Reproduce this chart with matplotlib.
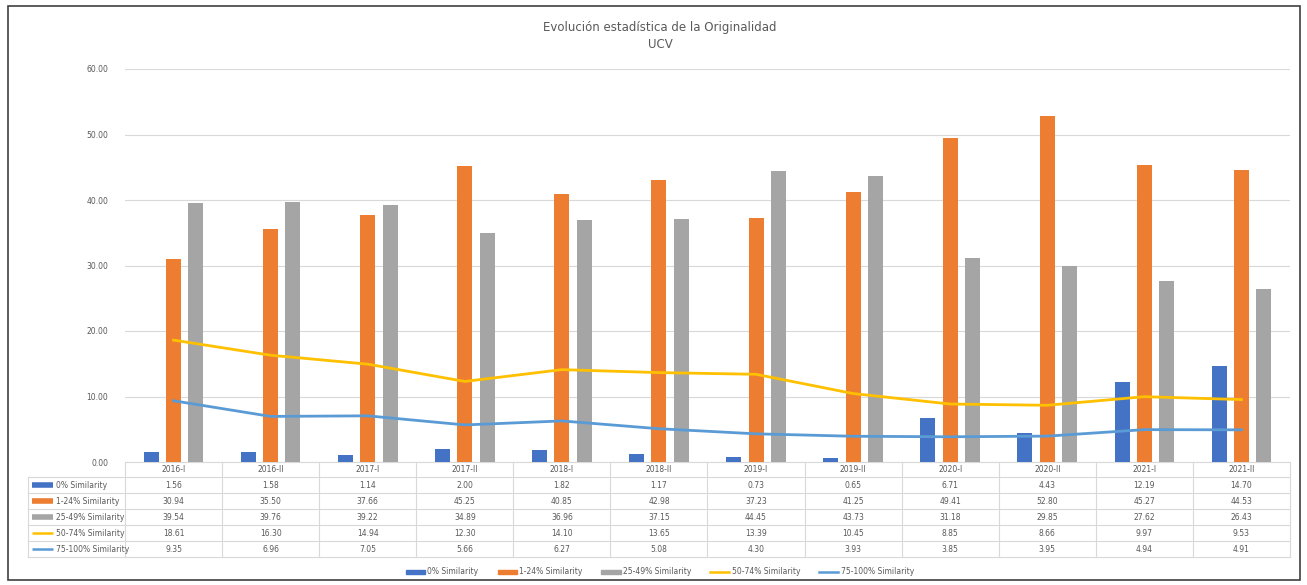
import matplotlib.pyplot as plt
import matplotlib.transforms as mtransforms
from matplotlib.patches import Rectangle
from matplotlib.lines import Line2D
import numpy as np

# data
periods = ["2016-I", "2016-II", "2017-I", "2017-II", "2018-I", "2018-II",
           "2019-I", "2019-II", "2020-I", "2020-II", "2021-I", "2021-II"]
sim_0 = [1.56, 1.58, 1.14, 2.00, 1.82, 1.17, 0.73, 0.65, 6.71, 4.43, 12.19, 14.70]
sim_1_24 = [30.94, 35.50, 37.66, 45.25, 40.85, 42.98, 37.23, 41.25, 49.41, 52.80, 45.27, 44.53]
sim_25_49 = [39.54, 39.76, 39.22, 34.89, 36.96, 37.15, 44.45, 43.73, 31.18, 29.85, 27.62, 26.43]
sim_50_74 = [18.61, 16.30, 14.94, 12.30, 14.10, 13.65, 13.39, 10.45, 8.85, 8.66, 9.97, 9.53]
sim_75_100 = [9.35, 6.96, 7.05, 5.66, 6.27, 5.08, 4.30, 3.93, 3.85, 3.95, 4.94, 4.91]

labels = ["0% Similarity", "1-24% Similarity", "25-49% Similarity",
          "50-74% Similarity", "75-100% Similarity"]
colors = ["#4472C4", "#ED7D31", "#A5A5A5", "#FFC000", "#5B9BD5"]
series = [sim_0, sim_1_24, sim_25_49, sim_50_74, sim_75_100]

txt = "#595959"
grid = "#D9D9D9"

fig = plt.figure(figsize=(13.07, 5.85), dpi=100)
ax = fig.add_axes([125 / 1307, 1 - 462 / 585, 1165 / 1307, 393 / 585])

x = np.arange(len(periods))
w = 0.155
step = 0.23
for k in range(3):
    ax.bar(x + (k - 1) * step, series[k], width=w, color=colors[k], zorder=3)
for k in range(3, 5):
    ax.plot(x, series[k], color=colors[k], lw=2, zorder=4, solid_joinstyle="round")

ax.set_xlim(-0.5, len(periods) - 0.5)
ax.set_ylim(0, 60)
ax.set_yticks(range(0, 61, 10))
ax.set_yticklabels([f"{v:.2f}" for v in range(0, 61, 10)], fontsize=5.5, color=txt)
ax.tick_params(axis="y", length=0, pad=12)
ax.set_xticks([])
ax.grid(axis="y", color=grid, lw=0.8, zorder=0)
for s in ["top", "right", "left"]:
    ax.spines[s].set_visible(False)
ax.spines["bottom"].set_color(grid)

# title
fig.text(660 / 1307, 1 - 28 / 585, "Evolución estadística de la Originalidad",
         ha="center", va="center", fontsize=8.5, color=txt)
fig.text(660 / 1307, 1 - 45 / 585, "UCV", ha="center", va="center",
         fontsize=8.5, color=txt)

# data table below the axes
tr = mtransforms.blended_transform_factory(ax.transData, ax.transAxes)
hh = 15 / 393
rh = 16 / 393
n = len(periods)
bottom = -hh - 5 * rh
# horizontal lines
for r in range(6):
    yy = -hh - r * rh
    ax.plot([-1.5, n - 0.5], [yy, yy], transform=tr, color=grid, lw=0.8, clip_on=False)
# vertical lines
for i in range(n + 1):
    ax.plot([i - 0.5, i - 0.5], [0, bottom], transform=tr, color=grid, lw=0.8, clip_on=False)
ax.plot([-1.5, -1.5], [-hh, bottom], transform=tr, color=grid, lw=0.8, clip_on=False)

for i, p in enumerate(periods):
    ax.text(i, -hh / 2, p, transform=tr, ha="center", va="center", fontsize=5.5, color=txt)
for r, (lab, vals) in enumerate(zip(labels, series)):
    yc = -hh - (r + 0.5) * rh
    ax.text(-1.21, yc, lab, transform=tr, ha="left", va="center", fontsize=5.5, color=txt)
    lw = 4 if r < 3 else 1.8
    ax.plot([-1.46, -1.24], [yc, yc], transform=tr, color=colors[r], lw=lw,
            solid_capstyle="butt", clip_on=False)
    for i, v in enumerate(vals):
        ax.text(i, yc, f"{v:.2f}", transform=tr, ha="center", va="center",
                fontsize=5.5, color=txt)

# legend
handles = [Rectangle((0, 0), 1, 1, color=colors[k]) for k in range(3)]
handles += [Line2D([], [], color=colors[k], lw=1.8) for k in range(3, 5)]
fig.legend(handles, labels, loc="center", bbox_to_anchor=(660 / 1307, 1 - 572 / 585),
           ncol=5, frameon=False, fontsize=5.5, labelcolor=txt,
           handlelength=2.5, handleheight=0.5, columnspacing=2.5, handletextpad=0.3)

# outer frame
fig.add_artist(Rectangle((8 / 1307, 5 / 585), 1292 / 1307, 574 / 585,
                         transform=fig.transFigure, fill=False, ec="#404040", lw=1.2))

fig.savefig("out.png", dpi=100)
